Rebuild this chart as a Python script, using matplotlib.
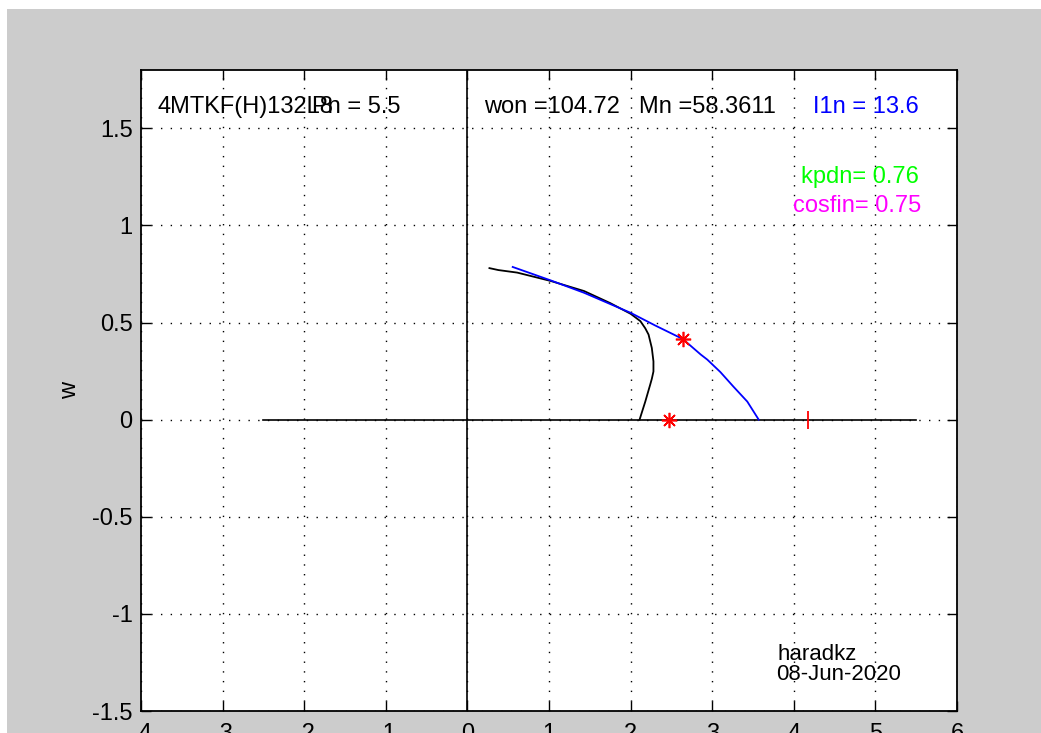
import matplotlib.pyplot as plt
from matplotlib.patches import Rectangle

plt.rcParams['font.family'] = ['Liberation Sans', 'DejaVu Sans']
plt.rcParams['axes.unicode_minus'] = False

# curve data
black_x = [0.27, 0.38, 0.61, 1.02, 1.43, 1.75, 2.0, 2.12, 2.18, 2.22, 2.26, 2.28, 2.28, 2.26, 2.24, 2.18, 2.11]
black_y = [0.78, 0.77, 0.757, 0.714, 0.662, 0.60, 0.545, 0.507, 0.47, 0.438, 0.369, 0.3, 0.248, 0.21, 0.18, 0.093, 0.0]
blue_x = [0.555, 1.02, 1.43, 2.0, 2.3, 2.64, 2.86, 2.94, 3.1, 3.26, 3.43, 3.57]
blue_y = [0.786, 0.717, 0.653, 0.55, 0.485, 0.415, 0.335, 0.309, 0.245, 0.17, 0.093, 0.0]
star_x = [2.64, 2.47]
star_y = [0.415, 0.0]
mark_x = [4.18]
mark_y = [0.0]
axis_line_x = [-2.5, 5.5]
axis_line_y = [0, 0]

xticks = [-4, -3, -2, -1, 0, 1, 2, 3, 4, 5, 6]
yticks = [-1.5, -1, -0.5, 0, 0.5, 1, 1.5]
ytick_labels = ['-1.5', '-1', '-0.5', '0', '0.5', '1', '1.5']

fig = plt.figure(figsize=(10.41, 7.33), dpi=100, facecolor='white')
fig.patches.append(Rectangle((7 / 1041, 0), 1, 724 / 733, transform=fig.transFigure,
                             facecolor='#cccccc', edgecolor='none', zorder=-1))
ax = fig.add_axes([141 / 1041, 22 / 733, 816 / 1041, 641 / 733])

ax.plot(axis_line_x, axis_line_y, color='black', lw=1.2)
ax.axvline(0, color='black', lw=1.2)
ax.plot(black_x, black_y, color='black', lw=1.3)
ax.plot(blue_x, blue_y, color='blue', lw=1.3)
ax.plot(star_x, star_y, ls='none', marker=(8, 2, 0), ms=11, mec='red', mew=1.2)
ax.plot(mark_x, mark_y, ls='none', marker='|', ms=13, mec='red', mew=1.3)

ax.set_xlim(-4, 6)
ax.set_ylim(-1.5, 1.8)
ax.set_xticks(xticks)
ax.set_yticks(yticks)
ax.set_yticklabels(ytick_labels)
ax.tick_params(direction='in', length=7, width=1, top=True, right=True,
               labelsize=17, pad=6)
ax.tick_params(axis='x', pad=9)
ax.grid(True, color='black', linestyle=(0, (1, 6)), lw=1)
for s in ax.spines.values():
    s.set_linewidth(1.3)
ax.set_ylabel('w', fontsize=17, labelpad=8)

fs = 17
ax.text(-3.8, 1.61, '4MTKF(H)132L8', fontsize=fs, va='center')
ax.text(-1.9, 1.61, 'Pn = 5.5', fontsize=fs, va='center')
ax.text(0.2, 1.61, 'won =104.72', fontsize=fs, va='center')
ax.text(2.1, 1.61, 'Mn =58.3611', fontsize=fs, va='center')
ax.text(4.24, 1.61, 'I1n = 13.6', fontsize=fs, va='center', color='blue')
ax.text(4.09, 1.247, 'kpdn= 0.76', fontsize=fs, va='center', color='#00ff00')
ax.text(3.99, 1.10, 'cosfin= 0.75', fontsize=fs, va='center', color='magenta')
ax.text(3.8, -1.21, 'haradkz', fontsize=16, va='center')
ax.text(3.78, -1.31, '08-Jun-2020', fontsize=16, va='center')

fig.savefig('out.png', dpi=100, facecolor=fig.get_facecolor())
